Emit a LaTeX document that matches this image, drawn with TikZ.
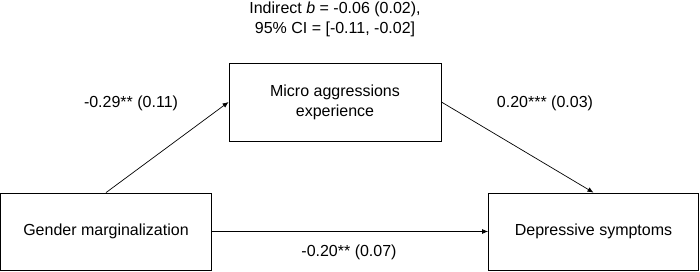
\documentclass[tikz,border=0pt]{standalone}
\usepackage{fontspec}
\setmainfont{Liberation Sans}
\usetikzlibrary{arrows.meta}
\begin{document}
\begin{tikzpicture}[x=1pt,y=-1pt,
  box/.style={draw=black,line width=0.8pt,fill=white,inner sep=0pt,align=center,font=\fontsize{16}{20}\selectfont},
  lbl/.style={inner sep=0pt,align=center,font=\fontsize{16}{20}\selectfont},
  conn/.style={draw=black,line width=0.7pt,-{Latex[length=6pt,width=5pt]}}]
\useasboundingbox (0,0) rectangle (700,272);
\node[box,minimum width=211pt,minimum height=77pt] (gm) at (106,231.5) {Gender marginalization};
\node[box,minimum width=212pt,minimum height=78pt] (med) at (335,102) {Micro aggressions\\experience};
\node[box,minimum width=210pt,minimum height=77pt] (dep) at (593.5,231.5) {Depressive symptoms};
\node[lbl] (ind) at (335,19) {Indirect \textit{b} = -0.06 (0.02),\\95\% CI = [-0.11, -0.02]};
\node[lbl] (a) at (131,103) {-0.29** (0.11)};
\node[lbl] (b) at (545,103) {0.20*** (0.03)};
\node[lbl] (c) at (349,252) {-0.20** (0.07)};
\draw[conn] (gm.north) -- (med.west);
\draw[conn] (med.east) -- (dep.north);
\draw[conn] (gm.east) -- (dep.west);
\end{tikzpicture}
\end{document}
